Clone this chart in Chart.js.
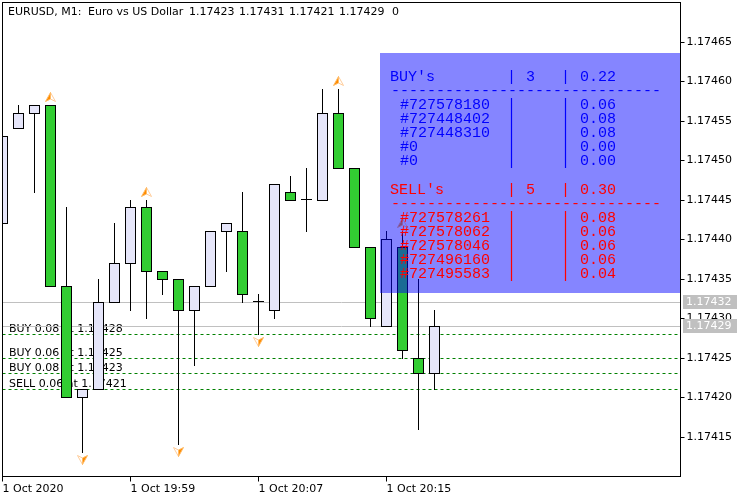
<!DOCTYPE html>
<html>
<head>
<meta charset="utf-8">
<title>EURUSD, M1</title>
<script src="https://cdn.jsdelivr.net/npm/chart.js@4"></script>
<style>
  body { margin: 0; background: #fff; }
  canvas { display: block; }
</style>
</head>
<body>
<canvas id="chart" width="750" height="500"></canvas>
<script>
// Candles
const opens  = [1.17442, 1.17454, 1.17456, 1.17457, 1.17434, 1.17420, 1.17421, 1.17432, 1.17437, 1.17444, 1.17436, 1.17435, 1.17431, 1.17434, 1.17441, 1.17441, 1.17432, 1.17431, 1.17446, 1.17445, 1.17445, 1.17456, 1.17449, 1.17439, 1.17429, 1.17439, 1.17425, 1.17423];
const highs  = [1.17453, 1.17457, 1.17457, 1.17457, 1.17444, 1.17421, 1.17435, 1.17442, 1.17445, 1.17445, 1.17436, 1.17435, 1.17434, 1.17441, 1.17442, 1.17446, 1.17433, 1.17447, 1.17448, 1.17449, 1.17459, 1.17459, 1.17449, 1.17439, 1.17441, 1.17441, 1.17435, 1.17431];
const lows   = [1.17442, 1.17454, 1.17446, 1.17434, 1.17420, 1.17413, 1.17421, 1.17432, 1.17431, 1.17430, 1.17433, 1.17414, 1.17424, 1.17434, 1.17436, 1.17432, 1.17428, 1.17430, 1.17445, 1.17441, 1.17445, 1.17449, 1.17439, 1.17429, 1.17429, 1.17425, 1.17416, 1.17421];
const closes = [1.17453, 1.17456, 1.17457, 1.17434, 1.17420, 1.17421, 1.17432, 1.17437, 1.17444, 1.17436, 1.17435, 1.17431, 1.17434, 1.17441, 1.17442, 1.17433, 1.17432, 1.17447, 1.17445, 1.17445, 1.17456, 1.17449, 1.17439, 1.17430, 1.17440, 1.17426, 1.17423, 1.17429];

// Axes
const yTicks = [1.17415, 1.17420, 1.17425, 1.17430, 1.17435, 1.17440, 1.17445, 1.17450, 1.17455, 1.17460, 1.17465];
const xTickBars = [0, 8, 16, 24];
const xTickLabels = ["1 Oct 2020", "1 Oct 19:59", "1 Oct 20:07", "1 Oct 20:15"];

// Trade arrows
const upArrowBars = [3, 9, 21, 25];
const upArrowPrices = [1.17458, 1.17446, 1.17460, 1.17442];
const downArrowBars = [5, 11, 16];
const downArrowPrices = [1.17412, 1.17413, 1.17427];

// Price lines
const tagPrices = [1.17432, 1.17429];
const orderPrices = [1.17428, 1.17425, 1.17423, 1.17421];
const orderLabels = ["BUY 0.08 at 1.17428", "BUY 0.06 at 1.17425", "BUY 0.08 at 1.17423", "SELL 0.06 at 1.17421"];

// Panel table
const buyHeader = ["BUY's", "3", "0.22"];
const buyTickets = ["#727578180", "#727448402", "#727448310", "#0", "#0"];
const buyLots = ["0.06", "0.08", "0.08", "0.00", "0.00"];
const sellHeader = ["SELL's", "5", "0.30"];
const sellTickets = ["#727578261", "#727578062", "#727578046", "#727496160", "#727495583"];
const sellLots = ["0.08", "0.06", "0.06", "0.06", "0.04"];

const titleParts = ["EURUSD, M1:", "Euro vs US Dollar", "1.17423", "1.17431", "1.17421", "1.17429", "0"];
const titleX = [8, 88, 189, 239, 289, 339, 392];

const uiFont = "11px 'DejaVu Sans'";
const monoFont = "15px 'Liberation Mono'";
const barSpan = 42.375;

// Small orange arrow used as point style
function makeArrow(flip) {
  const c = document.createElement("canvas");
  c.width = 11;
  c.height = 10;
  const g = c.getContext("2d");
  if (flip) {
    g.translate(11, 10);
    g.rotate(Math.PI);
  }
  g.fillStyle = "#fff";
  g.strokeStyle = "#ffcc99";
  g.beginPath();
  g.moveTo(5.5, 0.5);
  g.lineTo(10.5, 9.5);
  g.lineTo(5.5, 7);
  g.closePath();
  g.fill();
  g.stroke();
  g.fillStyle = "#ff8c00";
  g.strokeStyle = "#ffbb66";
  g.beginPath();
  g.moveTo(5.5, 0.5);
  g.lineTo(0.5, 9.5);
  g.lineTo(5.5, 7);
  g.closePath();
  g.fill();
  g.stroke();
  return c;
}

const levelLine = (price) => [{ x: 0, y: price }, { x: barSpan, y: price }];
const lineSet = (price, color, dash) => ({
  type: "line",
  data: levelLine(price),
  borderColor: color,
  borderWidth: 1,
  borderDash: dash,
  pointRadius: 0,
  order: 5,
  crisp: true,
});

const candleIdx = opens.map((_, i) => i);
const isDoji = (i) => opens[i] === closes[i];

const noPadding = (scale) => {
  scale.paddingLeft = scale.paddingRight = scale.paddingTop = scale.paddingBottom = 0;
};

// Everything that is not a mark: order labels, panel, price tags, frame
const overlay = {
  id: "overlay",
  afterDatasetsUpdate(chart) {
    // the terminal paints both end rows of a candle, so take one pixel more at the bottom
    chart.data.datasets.forEach((ds, d) => {
      if (ds.type !== "bar") return;
      chart.getDatasetMeta(d).data.forEach((el, i) => {
        if (ds.candleBody && isDoji(i)) return;
        if (el.y > el.base) el.y += 1;
        else el.base += 1;
      });
    });
  },
  beforeDatasetDraw(chart, args) {
    const ds = chart.data.datasets[args.index];
    if (ds.crisp) {
      chart.ctx.save();
      chart.ctx.translate(0, 0.5);
    }
  },
  afterDatasetDraw(chart, args) {
    if (chart.data.datasets[args.index].crisp) chart.ctx.restore();
  },
  beforeDatasetsDraw(chart) {
    const ctx = chart.ctx;
    const y = chart.scales.y;
    ctx.save();
    ctx.font = uiFont;
    ctx.fillStyle = "#000";
    ctx.textBaseline = "alphabetic";
    orderLabels.forEach((t, i) => ctx.fillText(t, 9, y.getPixelForValue(orderPrices[i]) - 2));
    ctx.restore();
  },
  afterDatasetsDraw(chart) {
    const ctx = chart.ctx;
    const y = chart.scales.y;
    const area = chart.chartArea;
    ctx.save();

    // Panel
    ctx.fillStyle = "rgba(0, 0, 255, 0.478)";
    ctx.fillRect(380, 53, 300, 240);
    ctx.font = monoFont;
    ctx.textBaseline = "alphabetic";
    const drawBlock = (color, header, tickets, lots, headY) => {
      ctx.fillStyle = color;
      ctx.fillText(header[0], 390, headY);
      ctx.fillText("|", 507, headY);
      ctx.fillText(header[1], 526, headY);
      ctx.fillText("|", 561, headY);
      ctx.fillText(header[2], 580, headY);
      ctx.fillText("-".repeat(30), 391, headY + 14);
      tickets.forEach((t, i) => {
        const rowY = headY + 28 + i * 14;
        ctx.fillText(t, 400, rowY);
        ctx.fillText("|", 507, rowY);
        ctx.fillText("|", 561, rowY);
        ctx.fillText(lots[i], 580, rowY);
      });
    };
    drawBlock("#0000ff", buyHeader, buyTickets, buyLots, 81);
    drawBlock("#ff0000", sellHeader, sellTickets, sellLots, 194);

    // Price tags on the axis
    ctx.font = uiFont;
    ctx.textBaseline = "middle";
    tagPrices.forEach((p) => {
      const py = y.getPixelForValue(p);
      ctx.fillStyle = "#c0c0c0";
      ctx.fillRect(683, py - 7, 54, 14);
      ctx.fillStyle = "#fff";
      ctx.fillText(p.toFixed(5), 686, py);
    });

    // Frame
    ctx.strokeStyle = "#000";
    ctx.lineWidth = 1;
    ctx.strokeRect(area.left, area.top, area.right - area.left, area.bottom - area.top);

    // Header line
    ctx.fillStyle = "#000";
    ctx.textBaseline = "alphabetic";
    titleParts.forEach((t, i) => ctx.fillText(t, titleX[i], 15));
    ctx.restore();
  },
};

new Chart(document.getElementById("chart"), {
  data: {
    datasets: [
      ...tagPrices.map((p) => lineSet(p, "#c0c0c0", [])),
      ...orderPrices.map((p) => lineSet(p, "#008000", [3, 3])),
      {
        // wicks
        type: "bar",
        data: candleIdx.map((i) => ({ x: i, y: [lows[i], highs[i]] })),
        backgroundColor: "#000",
        barThickness: 1,
        inflateAmount: 0,
        grouped: false,
        order: 3,
      },
      {
        // bodies
        type: "bar",
        candleBody: true,
        data: candleIdx.map((i) => ({ x: i, y: [opens[i], closes[i]] })),
        backgroundColor: candleIdx.map((i) => (isDoji(i) ? "#000" : closes[i] > opens[i] ? "#e6e6fa" : "#32cd32")),
        borderColor: "#000",
        borderWidth: candleIdx.map((i) => (isDoji(i) ? 0 : 1)),
        borderSkipped: false,
        barThickness: 11,
        minBarLength: 1,
        inflateAmount: 0,
        grouped: false,
        order: 2,
      },
      {
        type: "line",
        data: upArrowBars.map((b, i) => ({ x: b, y: upArrowPrices[i] })),
        showLine: false,
        pointStyle: makeArrow(false),
        pointRadius: 5,
        order: 1,
      },
      {
        type: "line",
        data: downArrowBars.map((b, i) => ({ x: b, y: downArrowPrices[i] })),
        showLine: false,
        pointStyle: makeArrow(true),
        pointRadius: 5,
        order: 1,
      },
    ],
  },
  options: {
    responsive: false,
    animation: false,
    events: [],
    layout: { autoPadding: false, padding: { left: 2.5, top: 2.5, right: 0, bottom: 0 } },
    plugins: { legend: { display: false }, tooltip: { enabled: false } },
    scales: {
      x: {
        type: "linear",
        min: 0,
        max: barSpan,
        offset: false,
        border: { display: false },
        grid: { offset: false, drawOnChartArea: false, color: "#000", tickLength: 5 },
        afterBuildTicks: (scale) => {
          scale.ticks = xTickBars.map((value) => ({ value }));
        },
        afterFit: (scale) => {
          scale.height = 23.5;
          noPadding(scale);
        },
        ticks: {
          autoSkip: false,
          maxRotation: 0,
          align: "start",
          padding: 1,
          color: "#000",
          font: { family: "DejaVu Sans", size: 11 },
          callback: (value) => xTickLabels[xTickBars.indexOf(value)],
        },
      },
      y: {
        type: "linear",
        position: "right",
        min: 1.1740994,
        max: 1.1746994,
        border: { display: false },
        grid: { drawOnChartArea: false, color: "#000", tickLength: 4 },
        afterBuildTicks: (scale) => {
          scale.ticks = yTicks.map((value) => ({ value }));
        },
        afterFit: (scale) => {
          scale.width = 69.5;
          noPadding(scale);
        },
        afterUpdate: (scale) => {
          // snap prices to whole pixels like the terminal does
          if (scale.snapped) return;
          scale.snapped = true;
          const raw = scale.getPixelForValue.bind(scale);
          scale.getPixelForValue = (v, i) => Math.round(raw(v, i));
        },
        ticks: {
          autoSkip: false,
          padding: 2,
          color: "#000",
          font: { family: "DejaVu Sans", size: 11 },
          callback: (value) => value.toFixed(5),
        },
      },
    },
  },
  plugins: [overlay],
});
</script>
</body>
</html>
